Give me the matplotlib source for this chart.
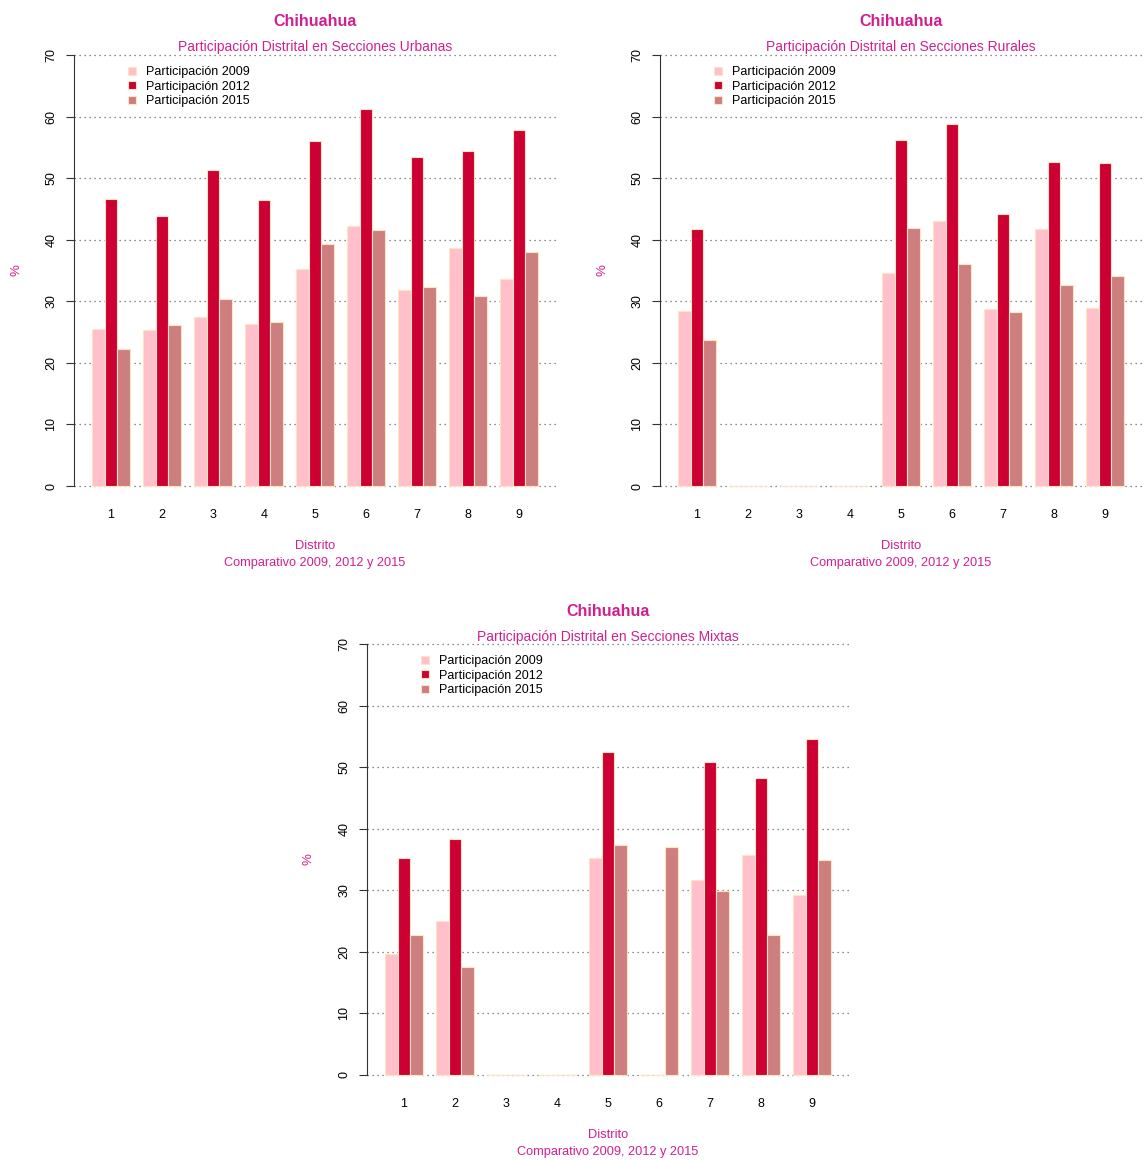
import matplotlib
matplotlib.use("Agg")
import matplotlib.pyplot as plt

plt.rcParams['font.family'] = ['Liberation Sans', 'DejaVu Sans']

# data
distritos = ['1', '2', '3', '4', '5', '6', '7', '8', '9']
series = ['Participación 2009', 'Participación 2012', 'Participación 2015']

urbanas_2009 = [25.5, 25.3, 27.4, 26.3, 35.3, 42.3, 31.9, 38.6, 33.7]
urbanas_2012 = [46.6, 43.9, 51.3, 46.5, 56.0, 61.3, 53.4, 54.4, 57.9]
urbanas_2015 = [22.3, 26.2, 30.3, 26.7, 39.3, 41.5, 32.3, 30.9, 38.0]

rurales_2009 = [28.4, 0, 0, 0, 34.6, 43.0, 28.8, 41.7, 28.9]
rurales_2012 = [41.8, 0, 0, 0, 56.2, 58.8, 44.1, 52.6, 52.5]
rurales_2015 = [23.7, 0, 0, 0, 41.9, 36.0, 28.2, 32.6, 34.1]

mixtas_2009 = [19.7, 25.0, 0, 0, 35.3, 0, 31.7, 35.8, 29.2]
mixtas_2012 = [35.2, 38.3, 0, 0, 52.5, 0, 50.9, 48.3, 54.6]
mixtas_2015 = [22.7, 17.5, 0, 0, 37.4, 37.0, 29.9, 22.8, 34.9]

colors = ['#FFC0CB', '#CC0033', '#CD7F7F']
edge = '#FFE4C4'
accent = '#D02090'

W, H = 1145, 1160
fig = plt.figure(figsize=(W / 100, H / 100), dpi=100)


def panel(x0, y0, subtitle, values):
    # x0: pixel of y-axis line, y0: pixel of y = 0 (top-left origin)
    unit_y = 431 / 70
    top = y0 - 72.8 * unit_y
    bottom = y0 + 2.8 * unit_y
    ax = fig.add_axes([x0 / W, 1 - bottom / H, 482 / W, (bottom - top) / H])

    for j, (vals, c) in enumerate(zip(values, colors)):
        xs = [1.5 + 4 * i + j for i in range(len(distritos))]
        ax.bar(xs, vals, width=1, color=c, edgecolor=edge, linewidth=0.8,
               label=series[j], zorder=2)

    ax.set_xlim(-0.4, 37.4)
    ax.set_ylim(-2.8, 72.8)
    ax.set_xticks([2.5 + 4 * i for i in range(len(distritos))])
    ax.set_xticklabels(distritos, fontsize=9)
    ax.tick_params(axis='x', length=0, pad=4)
    ax.set_yticks(range(0, 71, 10))
    ax.set_yticklabels([str(v) for v in range(0, 71, 10)], fontsize=9,
                       rotation=90, va='center')
    ax.tick_params(axis='y', length=6, pad=6, color='#333333')
    for s in ['top', 'right', 'bottom']:
        ax.spines[s].set_visible(False)
    ax.spines['left'].set_bounds(0, 70)
    ax.spines['left'].set_color('#333333')
    for v in range(0, 71, 10):
        ax.axhline(v, color='#666666', lw=0.9, ls=(0, (1, 3)), zorder=1)

    ax.legend(loc='upper left', bbox_to_anchor=(0.10, 0.952), frameon=False,
              fontsize=9, handlelength=0.6, handleheight=0.6,
              handletextpad=0.8, labelspacing=0.2, borderpad=0)

    cx = (x0 + 241) / W
    fig.text(cx, 1 - (y0 - 464) / H, 'Chihuahua', ha='center', va='center',
             fontsize=11.5, fontweight='bold', color=accent)
    fig.text(cx, 1 - (y0 - 438.5) / H, subtitle, ha='center', va='center',
             fontsize=10, color=accent)
    fig.text(cx, 1 - (y0 + 60) / H, 'Distrito', ha='center', va='center',
             fontsize=9.3, color=accent)
    fig.text(cx, 1 - (y0 + 77) / H, 'Comparativo 2009, 2012 y 2015',
             ha='center', va='center', fontsize=9.2, color=accent)
    fig.text((x0 - 58) / W, 1 - (y0 - 216) / H, '%', ha='center', va='center',
             rotation=90, fontsize=9.5, color=accent)
    return ax


panel(74, 486, 'Participación Distrital en Secciones Urbanas',
      [urbanas_2009, urbanas_2012, urbanas_2015])
panel(660, 486, 'Participación Distrital en Secciones Rurales',
      [rurales_2009, rurales_2012, rurales_2015])
panel(367, 1075, 'Participación Distrital en Secciones Mixtas',
      [mixtas_2009, mixtas_2012, mixtas_2015])

fig.savefig('out.png', dpi=100)
